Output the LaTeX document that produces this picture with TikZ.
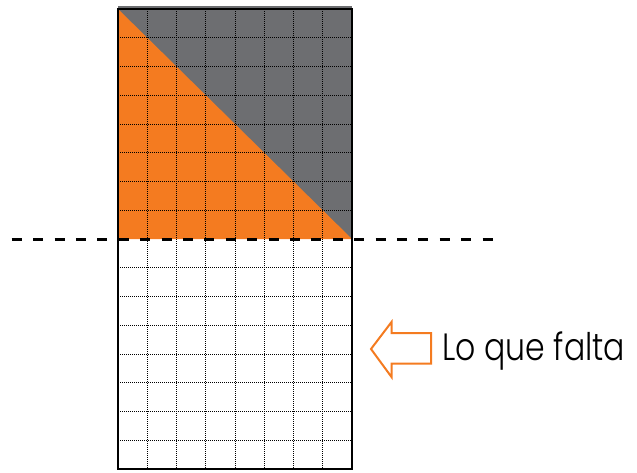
\documentclass[tikz,border=0pt]{standalone}
\usepackage{fontspec}
\setmainfont{Poppins}[UprightFont=* Light]
\newfontfamily\lblfont{Poppins}[UprightFont=* Light, FakeStretch=0.83]
\definecolor{orng}{HTML}{F47B20}
\definecolor{grayc}{HTML}{6D6E71}
\tikzset{
  gridline/.style={black, line width=0.8pt, dash pattern=on 1pt off 1pt},
  frame/.style={black, line width=1.5pt},
  cut/.style={black, line width=3pt, dash pattern=on 10pt off 11.4pt},
  hollowarrow/.style={draw=orng, line width=2pt, fill=white, line join=miter},
  label/.style={font=\lblfont\fontsize{38}{40}\selectfont, anchor=base west, inner sep=0pt}
}
\begin{document}
\begin{tikzpicture}[x=1pt,y=-1pt]
\useasboundingbox (0,0) rectangle (637,472);
% top half: gray and orange
\fill[grayc] (118,6) rectangle (352,239);
\fill[orng] (118,9) -- (118,239) -- (352,239) -- cycle;
% grid
\foreach \i in {1,...,7} {
  \draw[gridline] ({118+29.25*\i},9) -- ({118+29.25*\i},469);
}
\foreach \j in {1,...,7} {
  \draw[gridline] (118,{9+28.75*\j}) -- (352,{9+28.75*\j});
  \draw[gridline] (118,{239+28.75*\j}) -- (352,{239+28.75*\j});
}
% frame
\draw[frame] (118,9) rectangle (352,469);
% dashed cut line
\coordinate (cutL) at (11.7,239);
\coordinate (cutR) at (493,239);
\draw[cut] (cutL) -- (cutR);
% hollow arrow
\draw[hollowarrow] (371,349) -- (391.5,322) -- (391.5,333) -- (431,333) -- (431,363.5) -- (391.5,363.5) -- (391.5,377) -- cycle;
% label
\node[label] (txt) at (442,360) {Lo que falta};
\end{tikzpicture}
\end{document}
